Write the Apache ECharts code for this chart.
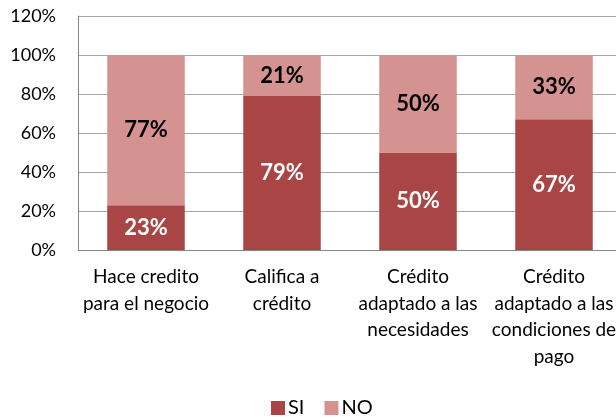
<!DOCTYPE html>
<html>
<head>
<meta charset="utf-8">
<script src="https://cdn.jsdelivr.net/npm/echarts@6/dist/echarts.min.js"></script>
<style>
  html, body { margin: 0; padding: 0; background: #fff; overflow: hidden; }
  /* el gráfico original se corta por la derecha */
  #chart { width: 622px; height: 419px; }
</style>
</head>
<body>
<div id="chart"></div>
<script>
// datos
var categories = [
  'Hace credito\npara el negocio',
  'Califica a\ncrédito',
  'Crédito\nadaptado a las\nnecesidades',
  'Crédito\nadaptado a las\ncondiciones de\npago'
]
var siValues = [23, 79, 50, 67]
var noValues = [77, 21, 50, 33]
var yTicks = [0, 20, 40, 60, 80, 100, 120]

var FONT = 'Lato, "Open Sans", sans-serif'

var chart = echarts.init(document.getElementById('chart'))
chart.setOption({
  animation: false,
  textStyle: { fontFamily: FONT },
  grid: {
    left: 78,
    right: 0,
    top: 16,
    bottom: 169
  },
  legend: {
    data: ['SI', 'NO'],
    top: 393,
    left: 266,
    itemWidth: 14,
    itemHeight: 14,
    itemGap: 20,
    icon: 'rect',
    textStyle: { fontFamily: FONT, fontSize: 20, color: '#000', padding: [0, 0, 0, -2] }
  },
  xAxis: {
    type: 'category',
    data: categories,
    axisTick: { show: false },
    axisLine: { show: true, lineStyle: { color: '#868686', width: 1 } },
    axisLabel: {
      interval: 0,
      color: '#000',
      fontSize: 19,
      lineHeight: 26.5,
      margin: 14,
      fontFamily: FONT
    }
  },
  yAxis: {
    type: 'value',
    min: 0,
    max: yTicks[yTicks.length - 1],
    interval: 20,
    axisLine: { show: true, lineStyle: { color: '#868686', width: 1 } },
    axisTick: { show: false },
    splitLine: { lineStyle: { color: '#a6a6a6', width: 1 } },
    axisLabel: {
      formatter: '{value}%',
      color: '#000',
      fontSize: 18,
      margin: 22,
      fontFamily: FONT
    }
  },
  series: [
    {
      name: 'SI',
      type: 'bar',
      stack: 'total',
      barWidth: '57%',
      itemStyle: { color: '#A94544' },
      label: {
        show: true,
        position: 'inside',
        formatter: '{c}%',
        color: '#fff',
        fontSize: 22,
        fontWeight: 'bold',
        fontFamily: FONT
      },
      data: siValues
    },
    {
      name: 'NO',
      type: 'bar',
      stack: 'total',
      barWidth: '57%',
      itemStyle: { color: '#D49291' },
      label: {
        show: true,
        position: 'inside',
        formatter: '{c}%',
        color: '#000',
        fontSize: 22,
        fontWeight: 'bold',
        fontFamily: FONT
      },
      data: noValues
    }
  ]
})
</script>
</body>
</html>
